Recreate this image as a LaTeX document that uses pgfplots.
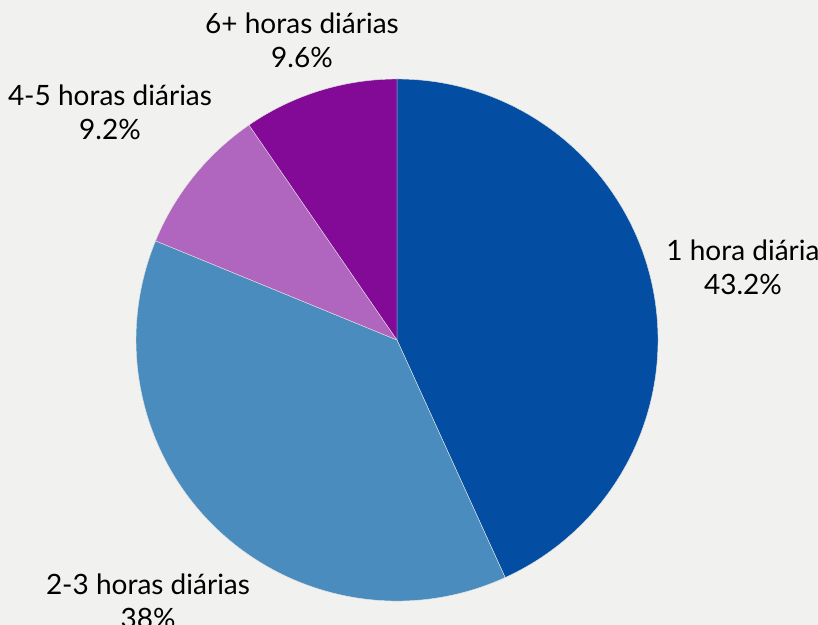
\documentclass[border=0pt]{standalone}
\usepackage{pgfplots}
\usepackage{pgfplotstable}
\pgfplotsset{compat=1.18}
\usepackage{fontspec}
\setmainfont{Lato}
\definecolor{bg}{HTML}{F1F1EF}
\definecolor{c1}{HTML}{034EA2}
\definecolor{c2}{HTML}{4A8CBD}
\definecolor{c3}{HTML}{B065BE}
\definecolor{c4}{HTML}{830A96}
\pgfplotstableread{
pct col lx ly
43.2 c1 743 358
38.0 c2 148 24
9.2 c3 110 513
9.6 c4 302 585
}\piedata
\begin{document}
\begin{tikzpicture}
\useasboundingbox (0,0) rectangle (409pt,312.5pt);
\clip (0,0) rectangle (409pt,312.5pt);
\fill[bg] (0,0) rectangle (409pt,312.5pt);
\begin{axis}[
  at={(0,0)}, anchor=origin,
  x=0.5pt, y=0.5pt,
  xmin=0, xmax=818, ymin=0, ymax=625,
  hide axis, clip=false,
]
\addplot[draw=none] coordinates {(0,0) (818,625)};
\pgfplotsextra{%
  \gdef\cum{90}%
  \foreach \i in {0,...,3}{%
    \pgfplotstablegetelem{\i}{pct}\of\piedata \let\p\pgfplotsretval
    \pgfplotstablegetelem{\i}{col}\of\piedata \let\c\pgfplotsretval
    \pgfmathsetmacro\aend{\cum-3.6*\p}%
    \fill[fill=\c, draw=white!80!gray, line width=0.2pt] (axis cs:397,285) -- ++(\cum:130.5pt) arc[start angle=\cum, end angle=\aend, radius=130.5pt] -- cycle;
    \xdef\cum{\aend}%
  }%
}
\node[align=center, font=\fontsize{14}{17}\selectfont] at (axis cs:743,358) {1 hora diária\\43.2\%};
\node[align=center, font=\fontsize{14}{17}\selectfont] at (axis cs:148,24) {2-3 horas diárias\\38\%};
\node[align=center, font=\fontsize{14}{17}\selectfont] at (axis cs:110,513) {4-5 horas diárias\\9.2\%};
\node[align=center, font=\fontsize{14}{17}\selectfont] at (axis cs:302,585) {6+ horas diárias\\9.6\%};
\end{axis}
\end{tikzpicture}
\end{document}
